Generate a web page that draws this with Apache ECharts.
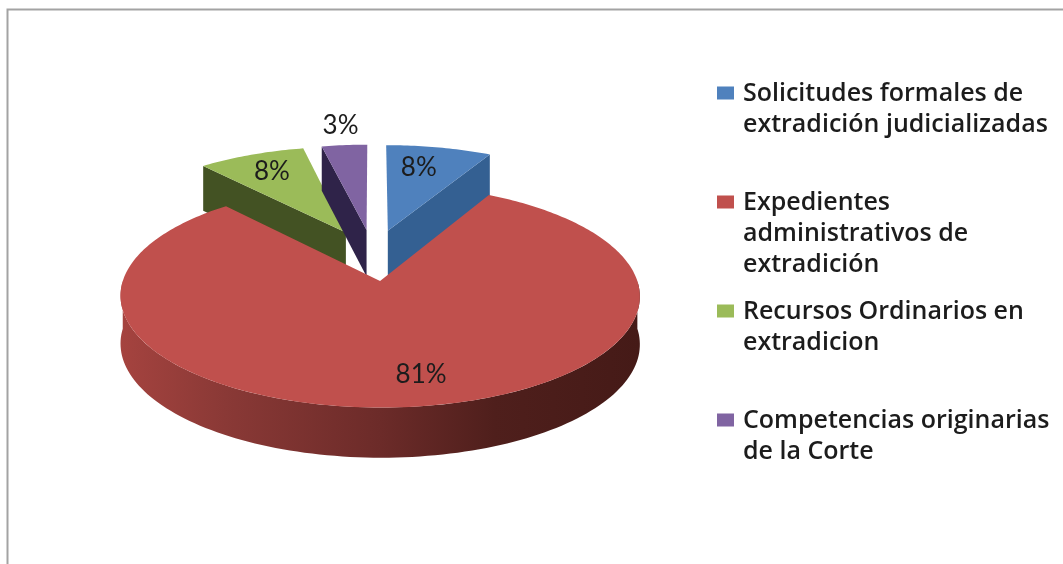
<!DOCTYPE html>
<html>
<head>
<meta charset="utf-8">
<style>html,body{margin:0;background:#fff}#main{width:1063px;height:564px}</style>
<script src="https://cdn.jsdelivr.net/npm/echarts@6/dist/echarts.min.js"></script>
</head>
<body>
<div id="main"></div>
<script>
const legendLines = [
  ["Solicitudes formales de", "extradición judicializadas"],
  ["Expedientes", "administrativos de", "extradición"],
  ["Recursos Ordinarios en", "extradicion"],
  ["Competencias originarias", "de la Corte"],
];
const categories = legendLines.map((l) => l.join(" "));
// the labels round them
const values = [7.9, 80.7, 8, 3.4];

const topColors = ["#4f81bd", "#c0504d", "#9bbb59", "#8064a2"];
const sideColors = ["#346092", "#7a302e", "#435223", "#2f2349"];
const legendFirstLine = [94, 203, 312, 421];
// label position relative to the apex of its slice
const labelOffset = [[31, -63], [41, 93], [-74, -61], [-26, -105]];

// pie projection
const OX = 373, OY = 254.8, A = 249, B = 102.5, K = 0.13, EXPLODE = 0.25;
const LINE = 31;

const total = values.reduce((a, b) => a + b, 0);
function project(X, Y) {
  const s = 1 / (1 + K * Y);
  return [OX + A * X * s, OY - B * Y * s];
}
function depth(Y) {
  return 47 / (1 + 0.05 * Y);
}
function sliceAngles(i) {
  let before = 0;
  for (let j = 0; j < i; j++) before += values[j];
  return [(before / total) * 2 * Math.PI, ((before + values[i]) / total) * 2 * Math.PI];
}

function renderSlice(i, value) {
  const [a0, a1] = sliceAngles(i);
  const mid = (a0 + a1) / 2;
  const ex = EXPLODE * Math.sin(mid), ey = EXPLODE * Math.cos(mid);
  const rim = (a) => [ex + Math.sin(a), ey + Math.cos(a)];
  const up = (p) => project(p[0], p[1]);
  const down = (p) => {
    const q = project(p[0], p[1]);
    return [q[0], q[1] + depth(p[1])];
  };
  const apex = [ex, ey];
  const children = [];

  // cut faces turned to the viewer
  const face = (a) => {
    const p = rim(a);
    children.push({
      type: "polygon",
      shape: { points: [up(apex), up(p), down(p), down(apex)] },
      style: { fill: sideColors[i] },
    });
  };
  if (Math.sin(a0) < -1e-6) face(a0);
  if (Math.sin(a1) > 1e-6) face(a1);

  // outer wall, only the front half shows
  const w0 = Math.max(a0, Math.PI / 2), w1 = Math.min(a1, (3 * Math.PI) / 2);
  if (w1 > w0) {
    const rimPts = [];
    for (let k = 0; k <= 120; k++) rimPts.push(rim(w0 + ((w1 - w0) * k) / 120));
    children.push({
      type: "polygon",
      shape: { points: rimPts.map(up).concat(rimPts.slice().reverse().map(down)) },
      style: {
        fill: new echarts.graphic.LinearGradient(0, 0, 1, 0, [
          { offset: 0, color: "#a5433f" },
          { offset: 0.2, color: "#8a3936" },
          { offset: 0.5, color: "#6c2b29" },
          { offset: 0.72, color: "#4f1f1c" },
          { offset: 1, color: "#451a17" },
        ]),
      },
    });
  }

  // top face
  const top = [up(apex)];
  const n = Math.max(8, Math.round((a1 - a0) * 60));
  for (let k = 0; k <= n; k++) top.push(up(rim(a0 + ((a1 - a0) * k) / n)));
  children.push({ type: "polygon", shape: { points: top }, style: { fill: topColors[i] } });

  // percent label
  const ap = up(apex);
  children.push({
    type: "text",
    style: {
      text: Math.round((value / total) * 100) + "%",
      x: ap[0] + labelOffset[i][0],
      y: ap[1] + labelOffset[i][1],
      align: "center",
      verticalAlign: "middle",
      fill: "#1c1c1c",
      fontFamily: "Lato",
      fontSize: 26,
    },
  });
  return { type: "group", children: children };
}

const chart = echarts.init(document.getElementById("main"));
chart.setOption({
  animation: false,
  backgroundColor: "#fff",
  legend: legendLines.map((lines, i) => ({
    data: [categories[i]],
    orient: "vertical",
    left: 717,
    top: legendFirstLine[i] - LINE / 2,
    padding: 0,
    itemWidth: 21,
    itemHeight: lines.length * LINE,
    symbolKeepAspect: false,
    // swatch sits beside the first text line, the rest of the box is empty
    icon: "path://M0 8H17V21H0Z M0 0L0 0 M21 " + lines.length * LINE + "L21 " + lines.length * LINE,
    formatter: () => lines.join("\n"),
    textStyle: {
      fontFamily: "Open Sans",
      fontWeight: 600,
      fontSize: 25,
      lineHeight: LINE,
      color: "#1c1c1c",
    },
  })),
  graphic: [
    {
      type: "polyline",
      shape: { points: [[7.5, 564], [7.5, 9.5], [1063, 9.5]] },
      style: { stroke: "#a3a3a3", lineWidth: 2, fill: null },
    },
  ],
  series: categories.map((name, i) => ({
    type: "custom",
    name: name,
    coordinateSystem: "none",
    z: i === 1 ? 3 : 2,
    itemStyle: { color: topColors[i] },
    data: [[values[i]]],
    renderItem: (params, api) => renderSlice(i, api.value(0)),
  })),
});
</script>
</body>
</html>
